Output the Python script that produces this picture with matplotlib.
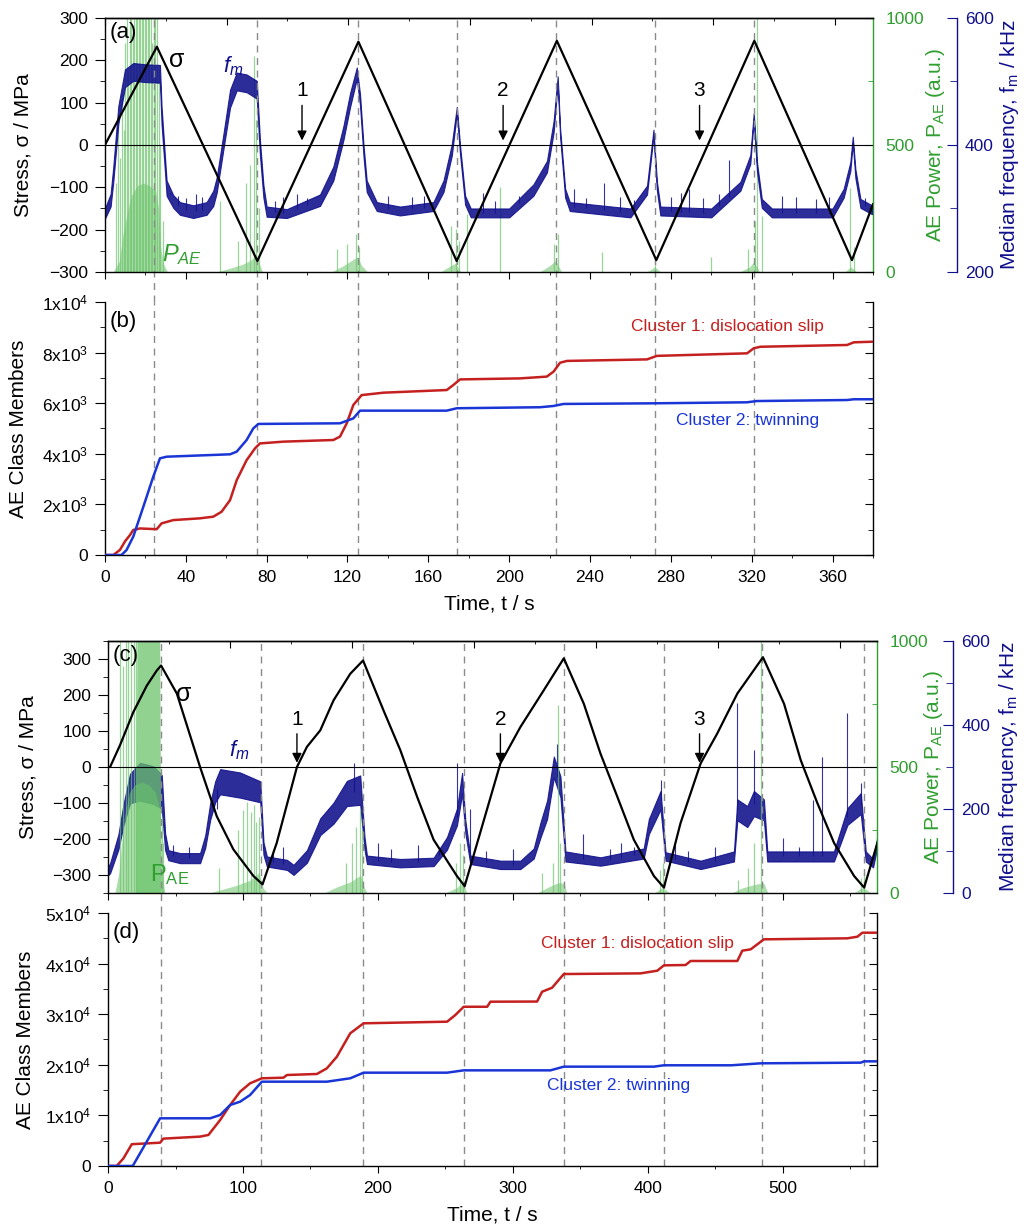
import matplotlib
matplotlib.use("Agg")
import matplotlib.pyplot as plt
import numpy as np
from matplotlib.ticker import MultipleLocator, FixedLocator, NullFormatter

plt.rcParams['font.family'] = ['Liberation Sans', 'DejaVu Sans']
plt.rcParams['mathtext.fontset'] = 'custom'
plt.rcParams['mathtext.rm'] = 'Liberation Sans'
plt.rcParams['mathtext.it'] = 'Liberation Sans:italic'
plt.rcParams['mathtext.bf'] = 'Liberation Sans:bold'
plt.rcParams['axes.linewidth'] = 1.0

GREEN_FILL = '#6cc46c'
GREEN_AX = '#2f9e2f'
NAVY = '#10108c'
RED = '#c4201f'
BLUE = '#1a35d6'
DASH = '#8a8a8a'

# ---------------- test 1 : panels (a) and (b) ----------------
# stress, (t [s], sigma [MPa])
stress_a = np.array([(0, 0), (25.7, 232), (75.4, -274), (125.4, 244), (174, -274),
                     (223.6, 246), (272.8, -272), (321.3, 246), (369.6, -272), (380, -140)])

# median frequency band, (t, mid [kHz], half width [kHz])
fm_a = np.array([
    (0, 292, 8), (2.8, 313, 10), (4.1, 353, 12), (6.6, 447, 14), (9.9, 505, 14), (14, 515, 14),
    (20, 513, 14), (27.2, 512, 14), (28, 447, 14), (29.7, 369, 12), (30.5, 332, 12),
    (33.8, 311, 10), (37.1, 300, 10), (43.7, 295, 10), (50.3, 300, 10), (53.6, 316, 12),
    (55.3, 337, 12), (58.6, 405, 12), (61.9, 473, 14), (65.2, 500, 14), (70.1, 497, 14),
    (75.1, 487, 14), (76.7, 395, 12), (78.4, 327, 10), (80, 295, 8), (90, 292, 7),
    (106.4, 313, 9), (113, 355, 11), (118, 419, 11), (121.3, 471, 11), (124.6, 513, 9),
    (126.2, 471, 9), (127.9, 392, 9), (129.5, 335, 9), (134.5, 303, 7), (146, 296, 7),
    (162.5, 303, 7), (167.5, 335, 9), (171.6, 392, 9), (174.1, 455, 5), (175.7, 392, 7),
    (178.2, 313, 7), (181, 293, 7), (200, 293, 7), (212, 329, 9), (218.7, 366, 9),
    (222, 429, 9), (224, 503, 5), (225.2, 419, 7), (227.7, 324, 7), (230, 303, 7),
    (260, 293, 7), (268.2, 329, 7), (271.4, 419, 5), (273.1, 335, 7), (274.8, 296, 7),
    (300, 293, 7), (314.4, 335, 7), (319.3, 377, 7), (321, 445, 5), (322.6, 366, 7),
    (325, 308, 7), (330, 293, 7), (360, 293, 7), (365.5, 324, 7), (368.8, 366, 7),
    (370, 408, 5), (371.3, 355, 7), (373.8, 308, 7), (379.5, 298, 7)])

# single noise spikes of f_m, (t, peak kHz)
fm_spk_a = np.array([(32, 325), (36, 320), (40, 316), (45, 322), (48, 318), (84, 312),
                     (88, 318), (95, 322), (100, 316), (140, 320), (152, 318), (158, 320),
                     (187, 325), (193, 312), (205, 320), (232, 330), (238, 316),
                     (246.7, 340), (255, 318), (262, 314), (280, 318), (285, 325),
                     (289, 330), (296, 316), (304, 322), (308.6, 377), (335, 320),
                     (342, 318), (352, 315), (358, 318), (376, 316)])

# AE power envelope, (t, P [a.u.])
pae_env_a = np.array([
    (0, 0), (4, 0), (7, 40), (9, 150), (11, 230), (13, 300), (16, 340), (19, 350), (22, 340),
    (25, 320), (26.5, 250), (27.5, 100), (29, 30), (31, 0), (55, 0), (62, 15), (68, 30),
    (72, 45), (75, 70), (76.5, 30), (78, 0), (112, 0), (118, 25), (122, 45), (125, 60),
    (127, 25), (130, 0), (166, 0), (170, 20), (173.5, 35), (176, 0), (215, 0), (220, 25),
    (223, 45), (226, 0), (268, 0), (272, 20), (275, 0), (314, 0), (319, 20), (321, 40),
    (324, 0), (366, 0), (369, 20), (372, 0), (380, 0)])

# AE power bursts, (t, P)
pae_spk_a = np.array([
    (5.5, 350), (6.6, 620), (7.5, 450), (8.3, 700), (9.2, 560), (10.0, 900), (10.8, 1100),
    (11.5, 800), (12.3, 1100), (13.0, 1100), (13.7, 950), (14.5, 1100), (15.2, 1100),
    (16.0, 1100), (16.7, 1000), (17.4, 1100), (18.2, 1100), (19.0, 1100), (19.7, 1100),
    (20.4, 1100), (21.2, 1100), (22.0, 1100), (22.7, 1100), (23.5, 900), (24.2, 1100),
    (25.0, 1100), (25.7, 1100), (26.5, 800), (27.3, 500), (28.5, 200),
    (57, 280), (66, 120), (70, 350), (72, 420), (73.5, 850), (74.5, 600), (76, 250),
    (115, 90), (120, 110), (124, 150), (125.5, 100), (171, 180), (173.5, 170), (175, 120),
    (179, 230), (195.5, 335), (222, 110), (224, 150), (246, 80), (272, 60), (300, 60),
    (318, 90), (321.5, 200), (322.5, 1100), (325, 220), (368.8, 330), (370.5, 100)])

# cumulative class members, (t, N)
red_b = np.array([
    (0, 0), (4.1, 0), (7.4, 200), (10, 550), (12.4, 790), (14, 990), (17.3, 1050),
    (25.6, 1020), (28, 1250), (33.8, 1380), (47, 1450), (53.6, 1515), (57.7, 1710),
    (61.9, 2170), (65.2, 2960), (70.1, 3750), (74.3, 4220), (76.7, 4410), (88.3, 4480),
    (113, 4545), (116.3, 4680), (119.6, 5200), (122.9, 5930), (127, 6320), (137.8, 6415),
    (169.1, 6520), (172.4, 6720), (175.7, 6940), (205.4, 6980), (218.6, 7050), (222, 7250),
    (225.2, 7600), (228.6, 7670), (268.2, 7730), (273.1, 7870), (317.7, 7970), (321, 8170),
    (324.3, 8230), (367.2, 8300), (370.5, 8405), (380, 8430)])
blue_b = np.array([
    (0, 0), (8.2, 0), (10.7, 200), (14, 725), (19, 1910), (23.9, 3095), (27.2, 3820),
    (30.5, 3885), (61.9, 3980), (65.2, 4085), (70.1, 4545), (73.4, 5005), (75.9, 5180),
    (116.3, 5205), (122.9, 5400), (126.2, 5705), (169.1, 5705), (174.1, 5800),
    (215.3, 5840), (222, 5890), (226.9, 5970), (271.4, 5995), (317.7, 6035), (322.6, 6085),
    (367.2, 6125), (370.5, 6155), (380, 6155)])

dashes_1 = [24.5, 75, 125, 174, 223, 272, 321]
arrows_1 = [('1', 97.5), ('2', 197), ('3', 294.2)]
ticks_b = [0, 2000, 4000, 6000, 8000, 10000]
ticklabels_b = ['0', r'2x$10^{3}$', r'4x$10^{3}$', r'6x$10^{3}$', r'8x$10^{3}$', r'1x$10^{4}$']

# ---------------- test 2 : panels (c) and (d) ----------------
stress_c = np.array([
    (0, 0), (1.5, 0), (8.9, 61), (18.8, 153), (28.7, 226), (36.1, 268), (39.3, 282), (51, 204),
    (68.2, 0), (80.6, -137), (92.9, -229), (107.8, -303), (114.5, -326), (125, -211),
    (140, 0), (147.4, 56), (157.3, 102), (167.1, 185), (179.5, 259), (189, 296),
    (204.2, 157), (216.6, 47), (229, -82), (241.3, -202), (258.6, -303), (264.3, -331),
    (290.8, 10), (305.6, 111), (322.9, 213), (337.8, 302), (352.6, 176), (365, 37),
    (377.4, -82), (389.7, -202), (404.6, -303), (412, -335), (424.3, -156), (439.2, 10),
    (451.5, 93), (466.4, 204), (485.4, 305), (501, 176), (513.4, 19), (525.7, -100),
    (538.1, -211), (553, -303), (560.4, -335), (570.2, -211)])

fm_c = np.array([
    (0, 52, 10), (1.5, 59, 12), (7.7, 122, 18), (11.4, 186, 25), (16.3, 249, 35),
    (23.7, 265, 45), (33.6, 257, 45), (39.8, 241, 40), (42.3, 122, 20), (44.7, 90, 12),
    (53.4, 83, 12), (68.2, 83, 12), (72, 122, 15), (75.7, 194, 20), (79.4, 241, 25),
    (83.1, 265, 30), (97.9, 257, 30), (112.8, 241, 25), (115.2, 106, 15), (117.7, 75, 12),
    (132.6, 67, 12), (137.5, 55, 12), (147.4, 87, 15), (157.3, 158, 20), (167.1, 190, 25),
    (177, 237, 30), (186.9, 245, 35), (190.1, 118, 15), (191.9, 79, 10), (216.6, 71, 10),
    (241.3, 74, 10), (251.2, 118, 15), (258.6, 181, 20), (262.4, 261, 25), (264.8, 158, 15),
    (268.5, 79, 10), (290.8, 67, 10), (305.6, 67, 10), (315.5, 94, 12), (320.5, 150, 18),
    (325.4, 198, 22), (330.4, 300, 25), (335.3, 253, 25), (339, 87, 12), (365, 75, 10),
    (397, 94, 12), (400.8, 158, 18), (409.5, 221, 22), (413.2, 87, 10), (439.2, 67, 10),
    (463.9, 87, 12), (466.4, 198, 25), (473.8, 182, 25), (478.7, 213, 30), (486.1, 198, 25),
    (488.6, 87, 12), (538, 87, 12), (548, 182, 20), (557.9, 213, 25), (561.6, 87, 12),
    (567, 71, 10), (570, 119, 12)])

fm_spk_c = np.array([(48, 115), (60, 110), (80.6, 200), (122, 100), (130, 110), (182, 309),
                     (200, 120), (210, 105), (230, 115), (245, 105), (258.6, 309),
                     (268.5, 200), (280, 100), (300, 105), (333, 356), (352, 140),
                     (372, 105), (380, 118), (390, 110), (409.5, 269), (420, 120),
                     (430, 100), (450, 110), (466.4, 452), (478.7, 340), (500, 130),
                     (512, 110), (522.7, 221), (529.4, 325), (548, 428), (558, 261)])

pae_env_c = np.array([
    (0, 0), (5, 0), (8, 80), (12, 300), (16, 400), (20, 430), (25, 440), (30, 430), (35, 400),
    (38.5, 330), (40, 80), (42, 0), (75, 0), (85, 15), (95, 30), (105, 50), (112, 80),
    (115, 20), (118, 0), (160, 0), (170, 25), (180, 45), (187, 70), (190, 20), (192, 0),
    (250, 0), (258, 20), (263, 40), (266, 0), (318, 0), (325, 20), (333, 40), (338, 40),
    (340, 0), (405, 0), (410, 20), (413, 15), (416, 0), (462, 0), (470, 20), (480, 35),
    (486, 40), (489, 0), (553, 0), (558, 20), (562, 15), (565, 0), (570, 0)])

# dense burst column, (t, P)
pae_col_c = np.array([(20.5, 0), (21.5, 1100), (38.2, 1100), (39.2, 0)])

pae_spk_c = np.array([
    (9, 1100), (11, 900), (13, 1100), (15, 1100), (17, 1100), (19, 1100), (20.5, 1100),
    (40, 300), (41, 200), (82, 100), (96, 250), (100, 330), (103, 360), (106, 320),
    (108, 350), (110, 280), (112, 300), (176, 120), (181, 200), (184, 260), (186.5, 330),
    (188, 250), (258, 120), (261, 200), (263, 150), (322, 80), (330, 120), (333.3, 746),
    (335, 200), (409, 90), (411, 119), (466.6, 52), (474, 100), (478.5, 198), (484, 1100),
    (558, 60), (560, 80)])

red_d = np.array([
    (0, 0), (6.4, 0), (11.4, 1500), (17.6, 4300), (38.6, 4600), (41, 5400), (68.2, 5800),
    (74.4, 6130), (83.1, 9090), (90.5, 12050), (97.9, 14690), (105.3, 16340), (114, 17330),
    (130, 17450), (132.6, 17980), (154.8, 18180), (162.2, 19300), (169.6, 21600),
    (179.5, 26220), (189.4, 28200), (251.3, 28520), (257.4, 29840), (263.6, 31470),
    (281, 31470), (283.4, 32470), (318, 32500), (321.7, 34440), (329.1, 35230),
    (337.8, 37940), (394.7, 38070), (407.1, 38600), (412, 39660), (428, 39720),
    (431.8, 40520), (466.4, 40520), (470.1, 42560), (476.3, 42820), (486.1, 44800),
    (548, 45000), (555.4, 45320), (559.1, 46110), (570, 46110)])
blue_d = np.array([
    (0, 0), (18.3, 0), (23.7, 2500), (38.6, 9420), (75.7, 9420), (83.1, 10080),
    (90.5, 12050), (97.9, 12710), (105.3, 14030), (114, 16660), (162.2, 16660),
    (179.5, 17330), (189.4, 18440), (251.3, 18440), (263.6, 18900), (327.9, 18900),
    (337.8, 19630), (404.6, 19630), (412, 19900), (462, 19900), (483.7, 20290),
    (557.9, 20420), (560.4, 20680), (570, 20680)])

dashes_2 = [39, 113.5, 189, 264, 338, 412, 485, 560]
arrows_2 = [('1', 140), ('2', 290.8), ('3', 438.4)]
ticks_d = [0, 10000, 20000, 30000, 40000, 50000]
ticklabels_d = ['0', r'1x$10^{4}$', r'2x$10^{4}$', r'3x$10^{4}$', r'4x$10^{4}$', r'5x$10^{4}$']

fig = plt.figure(figsize=(10.32, 12.29), dpi=100)


def top_panel(rect, stress, fm, fm_spk, env, col, spk, xmax, xstep, topstep, ylim, fmlim,
              blue_off, lab_x, dashes, gap, green_over, arrows, letter, texts):
    ax = fig.add_axes(rect)
    axg = ax.twinx()
    axb = ax.twinx()
    ax.set_zorder(5)
    ax.patch.set_visible(False)
    axg.set_zorder(3 if green_over else 1)
    axb.set_zorder(2)

    # AE power
    axg.fill_between(env[:, 0], 0, env[:, 1], color=GREEN_FILL, alpha=0.55, lw=0)
    if col is not None:
        axg.fill_between(col[:, 0], 0, col[:, 1], color=GREEN_FILL, alpha=0.75, lw=0)
    axg.vlines(spk[:, 0], 0, spk[:, 1], color=GREEN_FILL, lw=0.9, alpha=0.7)
    axg.set_ylim(0, 1000)

    # median frequency
    axb.fill_between(fm[:, 0], fm[:, 1] - fm[:, 2], fm[:, 1] + fm[:, 2], color=NAVY,
                     lw=0.8, alpha=0.88)
    axb.vlines(fm_spk[:, 0], np.interp(fm_spk[:, 0], fm[:, 0], fm[:, 1]), fm_spk[:, 1],
               color=NAVY, lw=0.8, alpha=0.85)
    axb.set_ylim(fmlim)

    # stress
    ax.plot(stress[:, 0], stress[:, 1], color='k', lw=1.6, zorder=4)
    ax.axhline(0, color='k', lw=0.8, zorder=3)
    for d in dashes:
        ax.axvline(d, ymin=-gap, ymax=1, color=DASH, lw=1, ls=(0, (5, 4)), clip_on=False, zorder=2)
    for lab, t in arrows:
        ax.annotate('', xy=(t, 4), xytext=(t, 100),
                    arrowprops=dict(arrowstyle='-|>', color='k', lw=1, mutation_scale=14))
        ax.text(t, 106, lab, fontsize=15, ha='center', va='bottom')

    ax.set_xlim(0, xmax)
    ax.set_ylim(ylim)
    ax.xaxis.set_major_locator(MultipleLocator(xstep))
    ax.xaxis.set_minor_locator(MultipleLocator(xstep / 2))
    ax.yaxis.set_major_locator(MultipleLocator(100))
    ax.yaxis.set_minor_locator(MultipleLocator(50))
    ax.tick_params(which='both', direction='out', top=False, right=False,
                   labelbottom=False, labelsize=12.5)
    ax.tick_params(axis='y', which='major', length=7, pad=5)
    ax.tick_params(axis='y', which='minor', length=3.5)
    ax.tick_params(axis='x', which='major', length=5)
    ax.tick_params(axis='x', which='minor', length=2.5)
    ax.spines['right'].set_visible(False)
    ax.set_ylabel('Stress, σ / MPa', fontsize=15)
    ax.yaxis.set_label_coords(lab_x[0], 0.5)

    sec = ax.secondary_xaxis('top')
    sec.xaxis.set_major_locator(MultipleLocator(topstep))
    sec.xaxis.set_minor_locator(MultipleLocator(topstep / 2))
    sec.xaxis.set_major_formatter(NullFormatter())
    sec.tick_params(which='both', direction='in')
    sec.tick_params(which='major', length=5)
    sec.tick_params(which='minor', length=2.5)

    for a in (axg, axb):
        for side in ('top', 'bottom', 'left'):
            a.spines[side].set_visible(False)
    axg.spines['right'].set_color(GREEN_AX)
    axg.yaxis.set_major_locator(MultipleLocator(500))
    axg.yaxis.set_minor_locator(MultipleLocator(250))
    axg.tick_params(axis='y', which='both', direction='in', colors=GREEN_AX, labelsize=12.5, pad=9)
    axg.tick_params(axis='y', which='major', length=6)
    axg.tick_params(axis='y', which='minor', length=3.5)
    axg.set_ylabel('AE Power, P$_\\mathrm{AE}$ (a.u.)', color=GREEN_AX, fontsize=15)
    axg.yaxis.set_label_coords(lab_x[1], 0.5)

    axb.spines['right'].set_position(('axes', blue_off))
    axb.spines['right'].set_color(NAVY)
    axb.yaxis.set_major_locator(MultipleLocator(200))
    axb.yaxis.set_minor_locator(MultipleLocator(100))
    axb.tick_params(axis='y', which='both', direction='in', colors=NAVY, labelsize=12.5, pad=6)
    axb.tick_params(axis='y', which='major', length=7)
    axb.tick_params(axis='y', which='minor', length=5)
    axb.set_ylabel('Median frequency, f$_\\mathrm{m}$ / kHz', color=NAVY, fontsize=15)
    axb.yaxis.set_label_coords(lab_x[2], 0.5)

    ax.text(0.006, 0.985, letter, transform=ax.transAxes, fontsize=16, va='top')
    for (tx, ty, s, c, fs) in texts:
        ax.text(tx, ty, s, color=c, fontsize=fs, ha='center', va='center')
    return ax


def count_panel(rect, red, blue, xmax, xstep, yticks, ylabels, yminor, dashes, letter, lab_x,
                labels):
    ax = fig.add_axes(rect)
    for d in dashes:
        ax.axvline(d, color=DASH, lw=1, ls=(0, (5, 4)), zorder=1)
    ax.plot(red[:, 0], red[:, 1], color=RED, lw=1.8, zorder=3)
    ax.plot(blue[:, 0], blue[:, 1], color=BLUE, lw=1.8, zorder=3)
    ax.set_xlim(0, xmax)
    ax.set_ylim(yticks[0], yticks[-1])
    ax.xaxis.set_major_locator(MultipleLocator(xstep))
    ax.xaxis.set_minor_locator(MultipleLocator(xstep / 2))
    ax.set_yticks(yticks, ylabels)
    ax.yaxis.set_minor_locator(MultipleLocator(yminor))
    ax.spines['top'].set_visible(False)
    ax.spines['right'].set_visible(False)
    ax.tick_params(which='both', direction='out', labelsize=12.5)
    ax.tick_params(axis='y', which='major', length=7, pad=5)
    ax.tick_params(axis='y', which='minor', length=3.5)
    ax.tick_params(axis='x', which='major', length=5, pad=6)
    ax.tick_params(axis='x', which='minor', length=2.5)
    ax.set_ylabel('AE Class Members', fontsize=15)
    ax.yaxis.set_label_coords(lab_x, 0.5)
    ax.set_xlabel('Time, t / s', fontsize=15)
    ax.xaxis.set_label_coords(0.5, -0.155)

    sec = ax.secondary_yaxis('right')
    sec.yaxis.set_major_locator(FixedLocator(yticks))
    sec.yaxis.set_minor_locator(MultipleLocator(yminor))
    sec.yaxis.set_major_formatter(NullFormatter())
    sec.tick_params(which='both', direction='in')
    sec.tick_params(which='major', length=6)
    sec.tick_params(which='minor', length=3.5)

    ax.text(0.006, 0.965, letter, transform=ax.transAxes, fontsize=16, va='top')
    for (tx, ty, s, c) in labels:
        ax.text(tx, ty, s, color=c, fontsize=12.5, ha='center', va='center')
    return ax


top_panel([0.1017, 0.7787, 0.7442, 0.2067], stress_a, fm_a, fm_spk_a, pae_env_a, None, pae_spk_a,
          380, 40, 60.2, (-300, 300), (200, 600), 1.109, (-0.094, 1.067, 1.163),
          dashes_1, 0.118, False, arrows_1, '(a)',
          [(35.5, 201, 'σ', 'k', 18), (63.5, 185, r'$f_m$', NAVY, 16),
           (38, -258, r'$P_{AE}$', GREEN_AX, 17)])

count_panel([0.1017, 0.5484, 0.7442, 0.2059], red_b, blue_b, 380, 40, ticks_b, ticklabels_b,
            1000, dashes_1, '(b)', -0.1,
            [(308, 9050, 'Cluster 1: dislocation slip', RED),
             (318, 5300, 'Cluster 2: twinning', BLUE)])

top_panel([0.1047, 0.2734, 0.7452, 0.2050], stress_c, fm_c, fm_spk_c, pae_env_c, pae_col_c,
          pae_spk_c, 570, 100, 90.4, (-350, 350), (0, 600), 1.099, (-0.092, 1.058, 1.156),
          dashes_2, 0.08, True, arrows_2, '(c)',
          [(55.9, 203, 'σ', 'k', 18), (97.4, 47, r'$f_m$', NAVY, 16),
           (46, -298, 'P$_\\mathrm{AE}$', GREEN_AX, 17)])

count_panel([0.1047, 0.0513, 0.7452, 0.2058], red_d, blue_d, 570, 100, ticks_d, ticklabels_d,
            5000, dashes_2, '(d)', -0.095,
            [(392, 44000, 'Cluster 1: dislocation slip', RED),
             (378.6, 16000, 'Cluster 2: twinning', BLUE)])

fig.savefig('out.png', dpi=100)
